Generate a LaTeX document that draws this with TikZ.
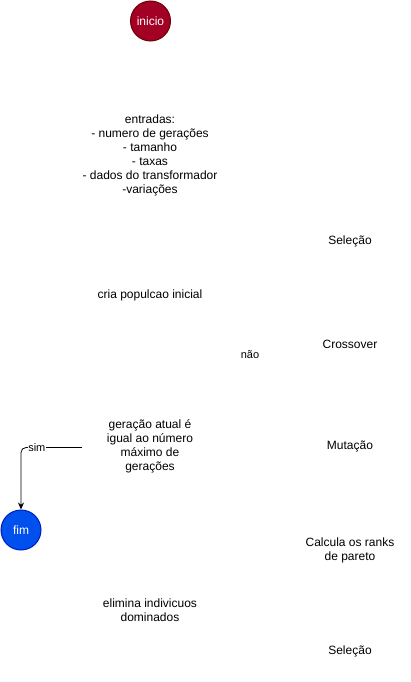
\documentclass[tikz,border=0pt]{standalone}
\usepackage{fontspec}
\setmainfont{Liberation Sans}
\usetikzlibrary{arrows.meta}

\definecolor{crimson}{HTML}{A20025}
\definecolor{crimsonline}{HTML}{6F0000}
\definecolor{cobalt}{HTML}{0050EF}
\definecolor{cobaltline}{HTML}{001DBC}

\begin{document}
\begin{tikzpicture}[x=1pt, y=-1pt,
  texto/.style={font=\fontsize{12}{14}\selectfont, align=center, inner sep=0pt},
  rotulo/.style={font=\fontsize{11}{13}\selectfont, fill=white, inner sep=1pt},
  terminal/.style={circle, minimum size=40pt, inner sep=0pt, line width=1pt, text=white, font=\fontsize{12}{14}\selectfont}]
  \useasboundingbox (0,0) rectangle (411,682);

  \node[terminal, fill=crimson, draw=crimsonline] (inicio) at (150.5,21) {inicio};
  \node[terminal, fill=cobalt, draw=cobaltline] (fim) at (21,530) {fim};

  \node[texto] (entradas) at (150,155) {entradas:\\- numero de gerações\\- tamanho\\- taxas\\- dados do transformador\\-variações};
  \node[texto] (populacao) at (150,295) {cria populcao inicial};
  \node[texto, minimum width=136pt] (decisao) at (150,446) {geração atual é\\igual ao número\\máximo de\\gerações};
  \node[texto] (elimina) at (150,610.5) {elimina indivicuos\\dominados};

  \node[texto] (selecao) at (350,241) {Seleção};
  \node[texto] (crossover) at (350,344) {Crossover};
  \node[texto] (mutacao) at (350,446) {Mutação};
  \node[texto] (ranks) at (350,550) {Calcula os ranks\\de pareto};
  \node[texto] (selecaofim) at (350,651) {Seleção};

  \node[rotulo] (nao) at (250,355) {não};

  % saida do laco
  \draw[line width=0.8pt, rounded corners=5pt, -{Stealth[length=7pt, width=6pt]}]
    (decisao.west |- 0,447.5) -| (fim.north) node[rotulo, pos=0.37, inner sep=0.5pt] (sim) {sim};
\end{tikzpicture}
\end{document}
